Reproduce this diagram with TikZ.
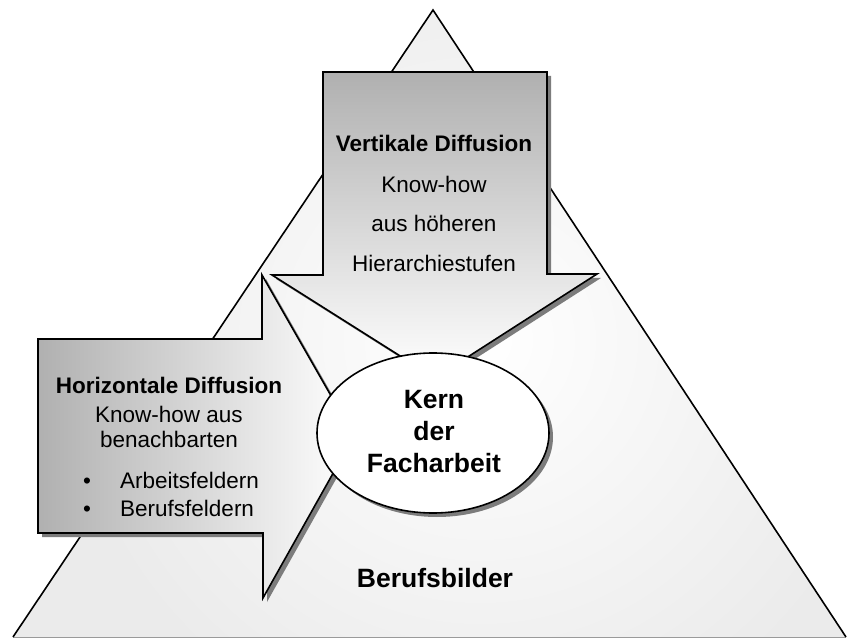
\documentclass[tikz,border=0pt]{standalone}
\usepackage{fontspec}
\setmainfont{Liberation Sans}
\usetikzlibrary{shapes.geometric}
\definecolor{trifill}{HTML}{EBEBEB}
\definecolor{shadowc}{HTML}{7C7C7C}
\definecolor{arrowdark}{HTML}{B0B0B0}
\definecolor{basegray}{HTML}{9A9A9A}
\begin{document}
\begin{tikzpicture}[x=1pt,y=-1pt,
  outline/.style={draw=black,line width=1.6pt,line join=miter},
  shadowfill/.style={fill=shadowc},
  bodytext/.style={font=\fontsize{22.5}{27}\selectfont, inner sep=0pt, anchor=base},
  headtext/.style={font=\fontsize{22.5}{27}\selectfont\bfseries, inner sep=0pt, anchor=base},
  bigtext/.style={font=\fontsize{26.5}{32}\selectfont\bfseries, inner sep=0pt, anchor=base},
  leftbase/.style={font=\fontsize{22.5}{27}\selectfont, inner sep=0pt, anchor=base west},
  kernshape/.style={ellipse, minimum width=232pt, minimum height=160pt, inner sep=0pt}
]
\useasboundingbox (0,0) rectangle (847,639);
\fill[white] (0,0) rectangle (847,639);

% pyramid
\fill[trifill] (13,637) -- (433,10) -- (846,637) -- cycle;
\begin{scope}
  \clip (13,637) -- (433,10) -- (846,637) -- cycle;
  \shade[inner color=white, outer color=trifill] (480,340) circle (420);
\end{scope}
\draw[basegray, line width=1pt] (13,637) -- (846,637);
\draw[outline] (13,637) -- (433,10) -- (846,637);

% vertical arrow
\fill[shadowfill, shift={(4,4)}] (323,72) -- (547,72) -- (547,274) -- (597,274) -- (435,378) -- (272,275) -- (323,275) -- cycle;
\shade[top color=arrowdark, bottom color=white] (323,72) -- (547,72) -- (547,274) -- (597,274) -- (435,378) -- (272,275) -- (323,275) -- cycle;
\draw[outline] (323,72) -- (547,72) -- (547,274) -- (597,274) -- (435,378) -- (272,275) -- (323,275) -- cycle;

% horizontal arrow
\fill[shadowfill, shift={(4,4)}] (38,339) -- (262,339) -- (262,275) -- (354,436) -- (263,598) -- (263,533) -- (38,533) -- cycle;
\shade[left color=arrowdark, right color=white] (38,339) -- (262,339) -- (262,275) -- (354,436) -- (263,598) -- (263,533) -- (38,533) -- cycle;
\draw[outline] (38,339) -- (262,339) -- (262,275) -- (354,436) -- (263,598) -- (263,533) -- (38,533) -- cycle;

% core ellipse
\node[kernshape, fill=shadowc] (kernshadow) at (437,437) {};
\node[kernshape, fill=white, draw=black, line width=1.6pt] (kern) at (433,433) {};

% texts vertical arrow
\node[headtext] (v1) at (434,152) {Vertikale Diffusion};
\node[bodytext] (v2) at (434,193) {Know-how};
\node[bodytext] (v3) at (434,232) {aus höheren};
\node[bodytext] (v4) at (434,272) {Hierarchiestufen};

% texts horizontal arrow
\node[headtext] (h1) at (169,393) {Horizontale Diffusion};
\node[bodytext] (h2) at (169,422) {Know-how aus};
\node[bodytext] (h3) at (169,447) {benachbarten};
\node[bodytext] (b1) at (87,488) {•};
\node[leftbase] (h4) at (120,488) {Arbeitsfeldern};
\node[bodytext] (b2) at (87,516) {•};
\node[leftbase] (h5) at (120,516) {Berufsfeldern};

% texts ellipse
\node[bigtext] (k1) at (434,408) {Kern};
\node[bigtext] (k2) at (434,440) {der};
\node[bigtext] (k3) at (434,472) {Facharbeit};

% base label
\node[bigtext] (beruf) at (435,587) {Berufsbilder};
\end{tikzpicture}
\end{document}
